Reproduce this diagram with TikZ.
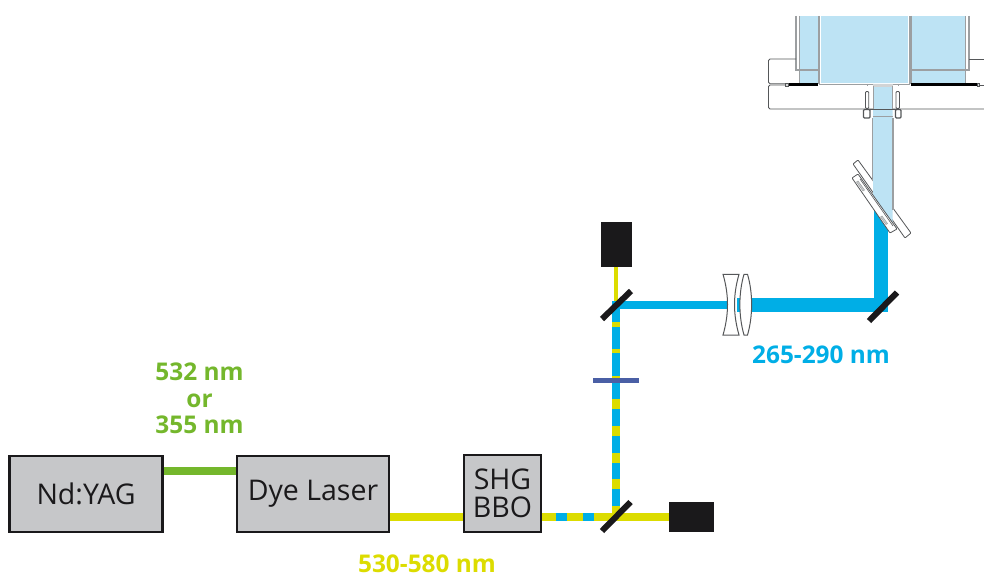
\documentclass[tikz,border=0pt]{standalone}
\usepackage{fontspec}
\usetikzlibrary{calc}
\setmainfont{Open Sans}
\definecolor{beamblue}{HTML}{00AEE6}
\definecolor{beamyellow}{HTML}{DCDC00}
\definecolor{beamgreen}{HTML}{74B72C}
\definecolor{boxgray}{HTML}{C6C7C9}
\definecolor{dumpblack}{HTML}{1A191B}
\definecolor{plateblue}{HTML}{4A5FA5}
\definecolor{lightchamber}{HTML}{BDE3F4}
\definecolor{wallgray}{HTML}{9C9FA1}
\definecolor{inkgray}{HTML}{555759}
\tikzset{
  unit box/.style={draw=dumpblack,line width=2.4pt,fill=boxgray,inner sep=0pt,align=center,
    font=\fontsize{28.5}{28}\selectfont,text=dumpblack},
  dump/.style={fill=dumpblack,draw=none,inner sep=0pt},
  mirror/.style={draw=dumpblack,line width=6pt},
  beam/.style={line width=#1,line cap=butt,line join=miter},
  wavelength/.style={font=\fontsize{24.4}{25}\selectfont\bfseries,anchor=base,inner sep=0pt},
  lens/.style={draw=inkgray,line width=1pt,fill=white},
  wall/.style={draw=wallgray,line width=1.4pt},
  flange/.style={draw=inkgray,line width=.8pt},
  plate/.style={draw=inkgray,line width=.8pt,fill=white,rounded corners=.8pt},
}
\begin{document}
\begin{tikzpicture}[x=1pt,y=-1pt]
\useasboundingbox (0,0) rectangle (984,575);
% reference points of the beam path
\coordinate (mA) at (616,516.5);
\coordinate (mB) at (616,305);
\coordinate (mC) at (881,305);
\coordinate (lensgap) at (737,305);
\coordinate (lensin) at (727,305);

% units
\node[unit box,minimum width=153pt,minimum height=76pt] (yag) at (86,494) {Nd:YAG};
\node[unit box,minimum width=152pt,minimum height=76pt] (dye) at (313,494) {Dye Laser};
\node[unit box,minimum width=77pt,minimum height=77pt] (shg) at (502.5,493.5) {SHG\\BBO};
\node[dump,minimum width=45pt,minimum height=30pt] (dumpA) at (691.5,517) {};
\node[dump,minimum width=31pt,minimum height=45pt] (dumpB) at (616.5,244.5) {};

% beams
\draw[beam=8pt,beamgreen] (yag.east |- 0,471) -- (dye.west |- 0,471);
\draw[beam=8pt,beamyellow] (dye.east |- mA) -- (shg.west |- mA);
\draw[beam=8pt,beamyellow] (shg.east |- mA) -- (dumpA.west |- mA);
\foreach \a/\b in {556/567,583/594}
  \draw[beam=8pt,beamblue] (\a,516.5) -- (\b,516.5);
\draw[beam=4pt,beamyellow] (dumpB.south -| mB) -- (mB);
\draw[beam=8pt,beamblue] (616,510) -- (616,305) -- (lensin);
\foreach \a/\b in {322/327,349/353,376/381,399/409,426/436,453/463,479/489,506/516}
  \draw[beam=8pt,beamyellow] (616,\a) -- (616,\b);
\draw[beam=14pt,beamblue] (lensgap) -- (mC) -- (881,200);

% chamber
\fill[lightchamber] (821,16) rectangle (908,83);
\fill[lightchamber] (799,16) rectangle (818,83);
\fill[lightchamber] (911,16) rectangle (966,83);
\draw[wall] (819.5,16) -- (819.5,84.5) -- (909.5,84.5) -- (909.5,16);
\draw[wall] (818.3,16) -- (818.3,84) (910.8,16) -- (910.8,84);
\draw[wall] (796,16) -- (796,70) -- (818,70);
\draw[wall,line width=.9pt] (799.5,16) -- (799.5,83);
\draw[wall] (969,16) -- (969,70) -- (911,70);
\draw[wall,line width=.9pt] (965.5,16) -- (965.5,83);
\draw[flange,rounded corners=1.5pt] (796,59) -- (768.5,59) -- (768.5,83.8) -- (787,83.8);
\draw[flange] (969,59) -- (984,59);
\draw[flange,rounded corners=1.5pt] (787,85) -- (768.5,85) -- (768.5,109) -- (984,109);
\draw[flange] (978,85) -- (984,85);
\draw[line width=2.8pt,black] (787,84.8) -- (818,84.8) (911,84.8) -- (978,84.8);
\draw[flange,fill=wallgray!40] (785.5,83.3) rectangle (788,86.3) (977,83.3) rectangle (979.5,86.3);

% window plate behind the tube
\draw[plate,line width=.8pt] (853,164) -- (858,160) -- (911,233) -- (905,238) -- cycle;

% tube
\fill[lightchamber] (873,84) -- (892.5,84) -- (892.5,232) -- (873,205) -- cycle;
\fill[wallgray!45] (873,84) rectangle (892.5,87);
\draw[wall] (872.5,118) -- (872.5,181);
\draw[wall] (893,118) -- (893,210);
\draw[wall,line width=.8pt] (873,116.5) -- (892.5,116.5);
\draw[wall,line width=.7pt] (873,86) -- (873,109) (892.5,86) -- (892.5,109);
\draw[wall,line width=.7pt] (867,84) -- (867,86) (898,84) -- (898,86);
% clamping screws
\draw[flange,line width=.9pt,rounded corners=1pt] (865.5,91.5) rectangle (868.7,108.5);
\draw[flange,line width=.9pt,rounded corners=1pt] (896,91.5) rectangle (899.5,108.5);
\draw[flange,line width=1.1pt,rounded corners=1pt] (863.5,109.5) rectangle (870,118);
\draw[flange,line width=1.1pt,rounded corners=1pt] (895.5,109.5) rectangle (901,118);
\draw[line width=1.6pt,inkgray] (870,109.5) -- (896,109.5);

% window plate in front
\draw[plate] (852,178) -- (858,174) -- (897,229) -- (890,233) -- cycle;
\draw[inkgray,line width=.6pt] (860,179) -- (893,226);
\draw[wallgray,fill=wallgray!50,line width=.5pt] (858,181) -- (856.5,182) -- (863,191) -- (864.5,190) -- cycle;
\draw[wallgray,fill=wallgray!50,line width=.5pt] (882,216) -- (880.5,217) -- (886,224.5) -- (887.5,223.5) -- cycle;

% optics
\node[fill=plateblue,inner sep=0pt,minimum width=46pt,minimum height=5.5pt] (wave) at (616,380.5) {};
\draw[mirror] ($(mA)+(-14,14.5)$) -- ($(mA)+(14.5,-14.5)$);
\draw[mirror] (602,319) -- (631,291);
\draw[mirror] (869,321) -- (897,292.5);
\draw[lens] (723,274.3) -- (739,274.3) .. controls (733,295) and (733,314) .. (739,335) -- (723,335)
  .. controls (729,314) and (729,295) .. (723,274.3) -- cycle;
\draw[lens] (744,274.3) -- (747.5,274.3) .. controls (753,293) and (753,316) .. (747.5,335) -- (744,335)
  .. controls (738.5,316) and (738.5,293) .. (744,274.3) -- cycle;

% labels
\node[wavelength,text=beamgreen] (la) at (199.5,380) {532 nm};
\node[wavelength,text=beamgreen] (lb) at (199.5,407) {or};
\node[wavelength,text=beamgreen] (lc) at (199.5,433) {355 nm};
\node[wavelength,text=beamyellow] (ld) at (427,572) {530-580 nm};
\node[wavelength,text=beamblue] (le) at (821,363) {265-290 nm};
\end{tikzpicture}
\end{document}
